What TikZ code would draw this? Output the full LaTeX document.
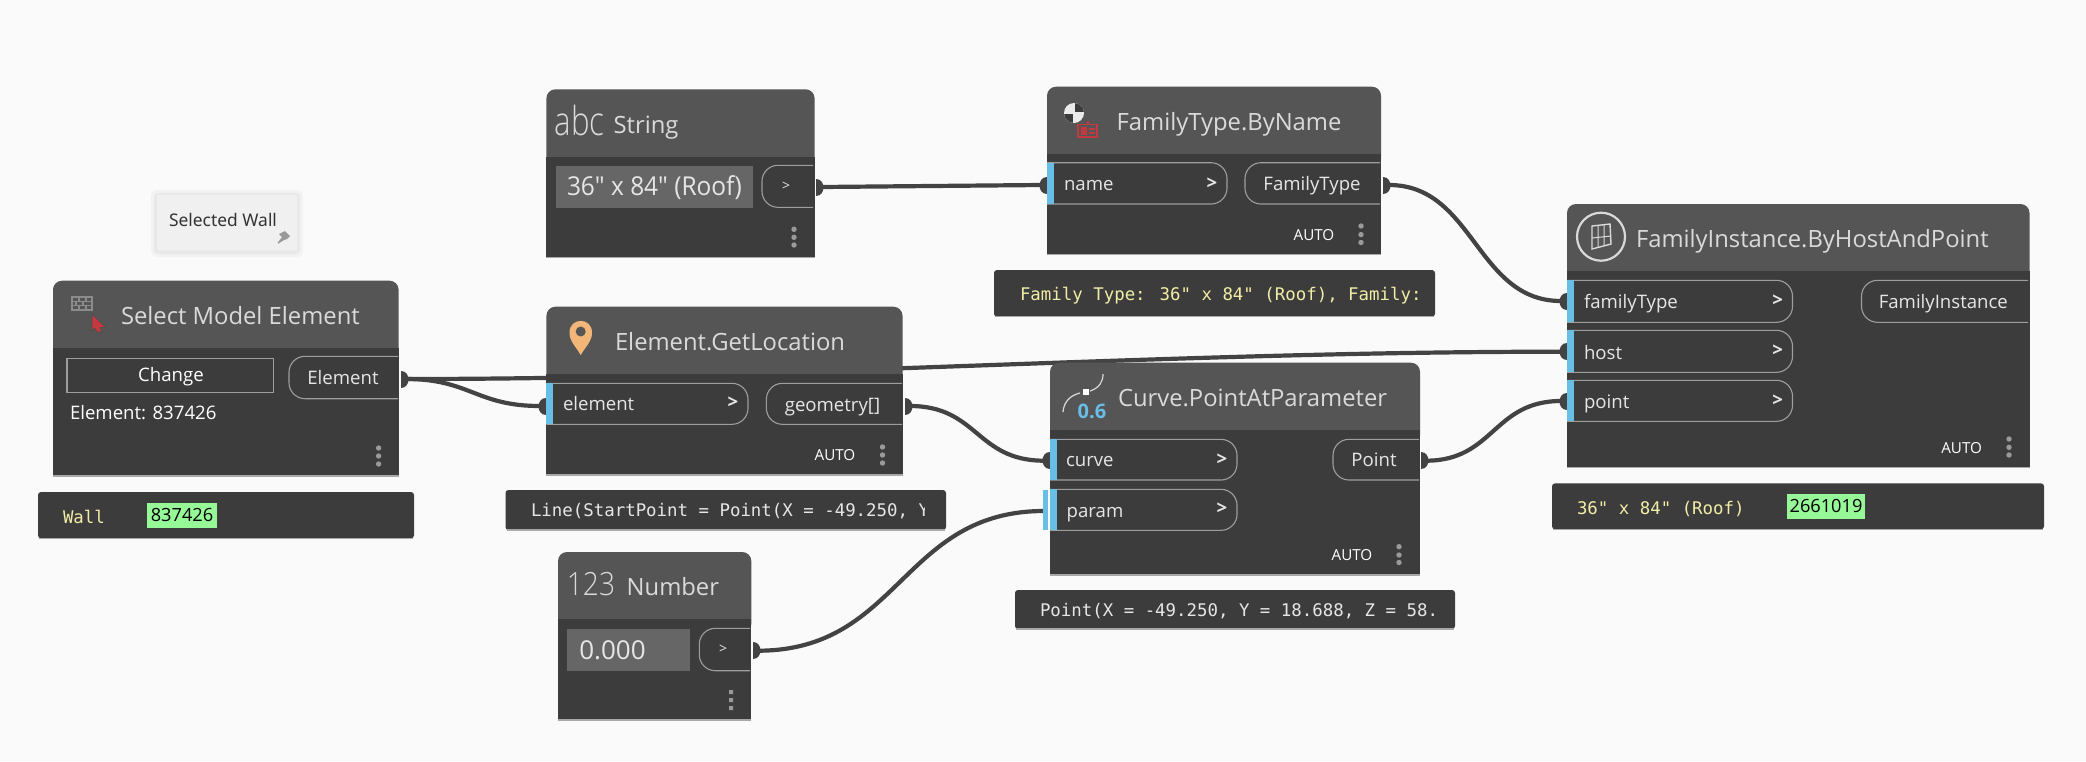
\documentclass[tikz,border=0pt]{standalone}
\usepackage{fontspec}
\setmainfont{Open Sans}
\newfontfamily\openf{Open Sans}
\newfontfamily\lightf{Open Sans Light}
\newfontfamily\monof{DejaVu Sans Mono}
\newfontfamily\notef{Noto Sans}
\definecolor{bgc}{HTML}{FAFAFA}
\definecolor{bodyc}{HTML}{3C3C3C}
\definecolor{headc}{HTML}{555555}
\definecolor{wirec}{HTML}{434343}
\definecolor{portc}{HTML}{9E9E9E}
\definecolor{bluec}{HTML}{69BEE6}
\definecolor{titlec}{HTML}{DADADA}
\definecolor{textc}{HTML}{E6E6E6}
\definecolor{yellc}{HTML}{F2EDA6}
\definecolor{greenc}{HTML}{96F896}
\definecolor{boxc}{HTML}{666666}
\definecolor{dotc}{HTML}{9A9A9A}
\definecolor{edgec}{HTML}{A8A8A8}
\definecolor{redc}{HTML}{C4393F}
\tikzset{
  every node/.style={inner sep=0pt,outer sep=0pt},
  wire/.style={draw=wirec,line width=2.1pt,line cap=round},
  markf/.style={fill=wirec},
  portline/.style={draw=portc,line width=.55pt},
  titlet/.style={text=titlec,anchor=base west,font=\fontsize{11.9}{14}\selectfont},
  portt/.style={text=textc,anchor=base west,font=\fontsize{9.3}{11}\selectfont},
  portmid/.style={text=textc,anchor=base,font=\fontsize{9.3}{11}\selectfont},
  arrt/.style={text=textc,anchor=center,font=\fontsize{9.3}{11}\bfseries\selectfont},
  arrs/.style={text=textc,anchor=center,font=\fontsize{7}{9}\selectfont},
  autot/.style={text=white,anchor=base,font=\fontsize{7.6}{9}\selectfont},
  monot/.style={text=textc,anchor=base west,font=\monof\fontsize{8.7}{11}\selectfont},
  yellt/.style={monot,text=yellc},
  greent/.style={text=black,anchor=base,font=\fontsize{9.1}{11}\selectfont},
  boxt/.style={text=textc,anchor=base west,font=\openf\fontsize{13}{15}\selectfont},
  bigt/.style={text=titlec,anchor=base,font=\lightf\fontsize{20}{24}\selectfont},
}
% node body: x1 y1 (top) yh (header bottom) x2 y2
\newcommand{\dynbody}[5]{%
  \fill[headc,rounded corners=4.5pt] (#1,#2) rectangle (#4,#3+14);
  \fill[bodyc] (#1,#3) rectangle (#4,#5);
  \draw[edgec,line width=.6pt] (#1,#5) -- (#4,#5);
}
\newcommand{\threedots}[4]{% x y1 y2 y3
  \fill[dotc] (#1,#2) circle (1.35pt) (#1,#3) circle (1.35pt) (#1,#4) circle (1.35pt);
}
% input port: x1 y1 x2 y2
\newcommand{\inport}[4]{%
  \draw[portline,rounded corners=8pt] (#1,#2) -- (#3,#2) -- (#3,#4) -- (#1,#4);
  \fill[bluec] (#1,#2) rectangle (#1+7,#4);
}
% output port, open at right
\newcommand{\outport}[4]{%
  \draw[portline,rounded corners=8pt] (#3,#2) -- (#1,#2) -- (#1,#4) -- (#3,#4);
}
\newcommand{\outmark}[3]{% name x y
  \fill[markf] (#2,#3-8.5) .. controls (#2+10,#3-8.5) and (#2+10,#3+8.5) .. (#2,#3+8.5) -- cycle;
  \node[coordinate] (#1) at (#2+6,#3) {};
}
\newcommand{\inmark}[3]{% name x y (x is flat edge)
  \fill[markf] (#2,#3-8.5) .. controls (#2-10,#3-8.5) and (#2-10,#3+8.5) .. (#2,#3+8.5) -- cycle;
  \node[coordinate] (#1) at (#2-6,#3) {};
}
\newcommand{\tooltip}[4]{%
  \fill[bodyc,rounded corners=1.5pt] (#1,#2) rectangle (#3,#4);
  \draw[edgec,line width=.6pt] (#1+1,#4) -- (#3-1,#4);
}
\begin{document}
\begin{tikzpicture}[x=.5pt,y=-.5pt]
\useasboundingbox (0,0) rectangle (2086,761);
\fill[bgc] (0,0) rectangle (2086,761);

% markers' anchors first, wires lie under the nodes
\node[coordinate] (selOut) at (406,379) {};
\node[coordinate] (elemIn) at (540,406) {};
\node[coordinate] (geomOut) at (910,406) {};
\node[coordinate] (curveIn) at (1044,460.7) {};
\node[coordinate] (paramIn) at (1044,511) {};
\node[coordinate] (pointOut) at (1426,460.7) {};
\node[coordinate] (strOut) at (821,187) {};
\node[coordinate] (nameIn) at (1041,185) {};
\node[coordinate] (ftOut) at (1389,185) {};
\node[coordinate] (ftIn) at (1561,301) {};
\node[coordinate] (hostIn) at (1561,351.7) {};
\node[coordinate] (ptIn) at (1561,401) {};
\node[coordinate] (numOut) at (758,650.7) {};

\draw[wire] (selOut) .. controls +(392,0) and +(-395,0) .. (hostIn);
\draw[wire] (selOut) .. controls +(64,0) and +(-64,0) .. (elemIn);
\draw[wire] (strOut) -- (nameIn);
\draw[wire] (geomOut) .. controls +(68,0) and +(-68,0) .. (curveIn);
\draw[wire] (numOut) .. controls +(142,0) and +(-142,0) .. (paramIn);
\draw[wire] (pointOut) .. controls +(68,0) and +(-68,0) .. (ptIn);
\draw[wire] (ftOut) .. controls +(85,0) and +(-85,0) .. (ftIn);

% ---------- note
\fill[black,opacity=.03,rounded corners=3pt] (151,190) rectangle (303,257);
\fill[black,opacity=.04,rounded corners=2pt] (154,193) rectangle (300,254);
\fill[black!6,rounded corners=1pt] (157,194.7) rectangle (297,250.3);
\node[text=black!80,anchor=base,font=\notef\fontsize{8.7}{11}\selectfont] (noteTxt) at (223,226) {Selected Wall};
\fill[black!40] (277.5,243) -- (282,237) -- (279,234) -- (285,231) -- (290,236) -- (287,239) -- (284,240) -- (278.5,243.5) -- cycle;

% ---------- Select Model Element
\dynbody{53}{280.7}{348}{398.6}{476}
\node[titlet] (selT) at (121,324) {Select Model Element};
\draw[black!45,line width=.6pt] (72,297) rectangle (92,310);
\draw[black!45,line width=.6pt] (72,301.3) -- (92,301.3) (72,305.6) -- (92,305.6) (79,297) -- (79,301.3) (86,297) -- (86,301.3) (76,301.3) -- (76,305.6) (83,301.3) -- (83,305.6) (79,305.6) -- (79,310) (86,305.6) -- (86,310);
\fill[redc,draw=black!70,line width=.3pt] (92,314) -- (105,327) -- (100,327.5) -- (102,332) -- (97,332) -- (95,328) -- (92,331) -- cycle;
\draw[portc,line width=.6pt] (67,358.3) rectangle (273.6,392.3);
\node[text=white,anchor=base,font=\fontsize{9.3}{11}\selectfont] (chg) at (171,381.7) {Change};
\outport{289}{356.3}{398}{398.7}
\node[portmid] (selP) at (343,384) {Element};
\node[portt,text=white] (selV) at (70,419.3) {Element: 837426};
\threedots{378.6}{448}{456}{464}
\outmark{selOutM}{400.5}{379}
\tooltip{38}{492}{414}{538.3}
\node[yellt] (wallT) at (63,523) {Wall};
\fill[greenc] (147,503) rectangle (217,528);
\node[greent] (wallId) at (182,521.5) {837426};

% ---------- String
\dynbody{546.4}{89.3}{157.3}{814.6}{257.3}
\node[bigt] (abc) at (579.5,135.5) {\scalebox{.78}[1]{abc}};
\node[titlet] (strT) at (613.6,133.7) {String};
\fill[boxc] (556.4,166) rectangle (752.5,208);
\node[boxt] (strV) at (567,195.5) {\scalebox{.94}[1]{36" x 84" (Roof)}};
\outport{762}{165.3}{813}{207.3}
\node[arrs] (strA) at (786,186) {>};
\threedots{794}{229.3}{237.3}{245}
\outmark{strOutM}{816}{187}

% ---------- Element.GetLocation
\dynbody{546.4}{306.7}{374}{902.5}{475}
\node[titlet] (elT) at (615,350) {Element.GetLocation};
\fill[orange!50!white!95!black] (580.7,355) .. controls (574,344) and (569.5,341) .. (569.5,332.5) .. controls (569.5,317) and (592,317) .. (592,332.5) .. controls (592,341) and (587.5,344) .. (580.7,355) -- cycle;
\fill[headc] (580.7,331.5) circle (2.5pt);
\inport{546.4}{383.3}{748}{424.3}
\node[portt] (elIn) at (563,410.5) {element};
\node[arrt] (elA) at (733,403) {>};
\outport{766.4}{383.3}{902}{424.3}
\node[portmid] (geo) at (832.5,411) {geometry[]};
\node[autot] (elAuto) at (835,460.7) {AUTO};
\threedots{882.5}{447}{455}{463}
\inmark{elemInM}{546}{406}
\outmark{geomOutM}{904.5}{406}
\tooltip{505.5}{490}{946}{530}
\begin{scope}
\clip (520,490) rectangle (924,530);
\node[monot] (lineT) at (531,516.5) {Line(StartPoint = Point(X = -49.250, Y};
\end{scope}

% ---------- Number
\dynbody{558}{552}{619}{751.3}{720}
\node[bigt,font=\lightf\fontsize{16}{20}\selectfont] (n123) at (591,595.5) {\scalebox{.88}[1]{123}};
\node[titlet] (numT) at (626.7,595.5) {Number};
\fill[boxc] (567.3,629) rectangle (689.7,671.3);
\node[boxt] (numV) at (579.3,659) {0.000};
\outport{699.3}{628.3}{750}{670.7}
\node[arrs] (numA) at (723,649) {>};
\fill[dotc] (729,690) rectangle (733,694) (729,698) rectangle (733,702) (729,706) rectangle (733,710);
\outmark{numOutM}{752.5}{650.7}

% ---------- FamilyType.ByName
\dynbody{1047}{86.7}{154}{1381}{254.7}
\node[titlet] (ftT) at (1116.7,130) {FamilyType.ByName};
\begin{scope}
\clip (1074,113) circle (5pt);
\fill[white!92!black] (1074,113) circle (5pt);
\fill[bodyc] (1075,112) rectangle (1086,102);
\fill[bodyc] (1073,114) rectangle (1062,124);
\end{scope}
\draw[redc,line width=.7pt] (1078,124.5) rectangle (1097,137);
\fill[redc] (1081,127) rectangle (1087,135);
\draw[redc,line width=.6pt] (1088,121) -- (1088,124.5) (1089,129) -- (1095,129) (1089,133) -- (1095,133);
\inport{1047}{162.7}{1227}{204}
\node[portt] (nmP) at (1064,190) {name};
\node[arrt] (nmA) at (1212,183.5) {>};
\outport{1245}{162.7}{1380}{204}
\node[portmid] (ftP) at (1312,190) {FamilyType};
\node[autot] (ftAuto) at (1314,240.7) {AUTO};
\threedots{1361}{226}{234.6}{242.5}
\inmark{nameInM}{1046.5}{185}
\outmark{ftOutM}{1382.5}{185}
\tooltip{994}{270}{1435}{316.7}
\begin{scope}
\clip (1000,270) rectangle (1419,317);
\node[yellt] (ftTip) at (1020,300.5) {Family Type: 36" x 84" (Roof), Family:};
\end{scope}

% ---------- Curve.PointAtParameter
\dynbody{1050}{362.7}{430}{1420}{575}
\node[titlet] (cvT) at (1118,406.5) {Curve.PointAtParameter};
\draw[titlec,line width=.6pt] (1063,412) .. controls (1064,400) and (1072,395) .. (1080,393);
\draw[titlec,line width=.6pt] (1090,391) .. controls (1099,388) and (1103,382) .. (1103,374);
\fill[white] (1083,389) rectangle (1089,395);
\node[text=bluec,font=\fontsize{10}{12}\selectfont\bfseries] (cvN) at (1092,411.7) {0.6};
\inport{1050}{439.3}{1237}{480}
\node[portt] (cvP) at (1066,466) {curve};
\node[arrt] (cvA) at (1222,459.5) {>};
\inport{1050}{489.3}{1237}{530.3}
\node[portt] (paP) at (1066.7,517) {param};
\node[arrt] (paA) at (1222,509) {>};
\fill[bluec] (1043,490) rectangle (1048,529.7);
\outport{1333}{439.3}{1419}{480}
\node[portmid] (ptP) at (1374,466) {Point};
\node[autot] (cvAuto) at (1352,560) {AUTO};
\threedots{1399}{546.7}{555}{562.5}
\inmark{curveInM}{1049.5}{460.7}
\outmark{pointOutM}{1420.5}{460.7}
\tooltip{1015}{590}{1455}{629}
\begin{scope}
\clip (1020,590) rectangle (1439,629);
\node[monot] (ptTip) at (1040,616.7) {Point(X = -49.250, Y = 18.688, Z = 58.};
\end{scope}

% ---------- FamilyInstance.ByHostAndPoint
\dynbody{1567}{204}{271}{2029.5}{467.3}
\node[titlet] (fiT) at (1636,247.3) {FamilyInstance.ByHostAndPoint};
\draw[white!85!black,line width=1.1pt] (1601,236.7) circle (12pt);
\draw[white!85!black,line width=.7pt] (1592,226) -- (1610,224) -- (1611,244) -- (1592,249) -- cycle;
\draw[white!85!black,line width=.5pt] (1598,226) -- (1598,247) (1604,225) -- (1604,246) (1592,238) -- (1611,236);
\inport{1567}{280.3}{1792.5}{322.3}
\node[portt] (fiA) at (1584,308.7) {familyType};
\node[arrt] (fiAa) at (1777.7,300.7) {>};
\inport{1567}{330.3}{1792.5}{372.3}
\node[portt] (fiB) at (1584,359) {host};
\node[arrt] (fiBa) at (1777.7,350.7) {>};
\inport{1567}{380.3}{1792.5}{421.3}
\node[portt] (fiC) at (1584,408) {point};
\node[arrt] (fiCa) at (1777.7,400.7) {>};
\outport{1861.5}{280.3}{2028}{322.3}
\node[portmid] (fiO) at (1943.3,308.5) {FamilyInstance};
\node[autot] (fiAuto) at (1961.6,453.3) {AUTO};
\threedots{2009}{439}{447.3}{455}
\inmark{ftInM}{1566.5}{301}
\inmark{hostInM}{1566.5}{351.7}
\inmark{ptInM}{1566.5}{401}
\tooltip{1552}{483.3}{2044}{529.3}
\node[yellt] (fiTip) at (1577,514) {36" x 84" (Roof)};
\fill[greenc] (1787,494) rectangle (1865,518.7);
\node[greent] (fiId) at (1826,512) {2661019};
\end{tikzpicture}
\end{document}
